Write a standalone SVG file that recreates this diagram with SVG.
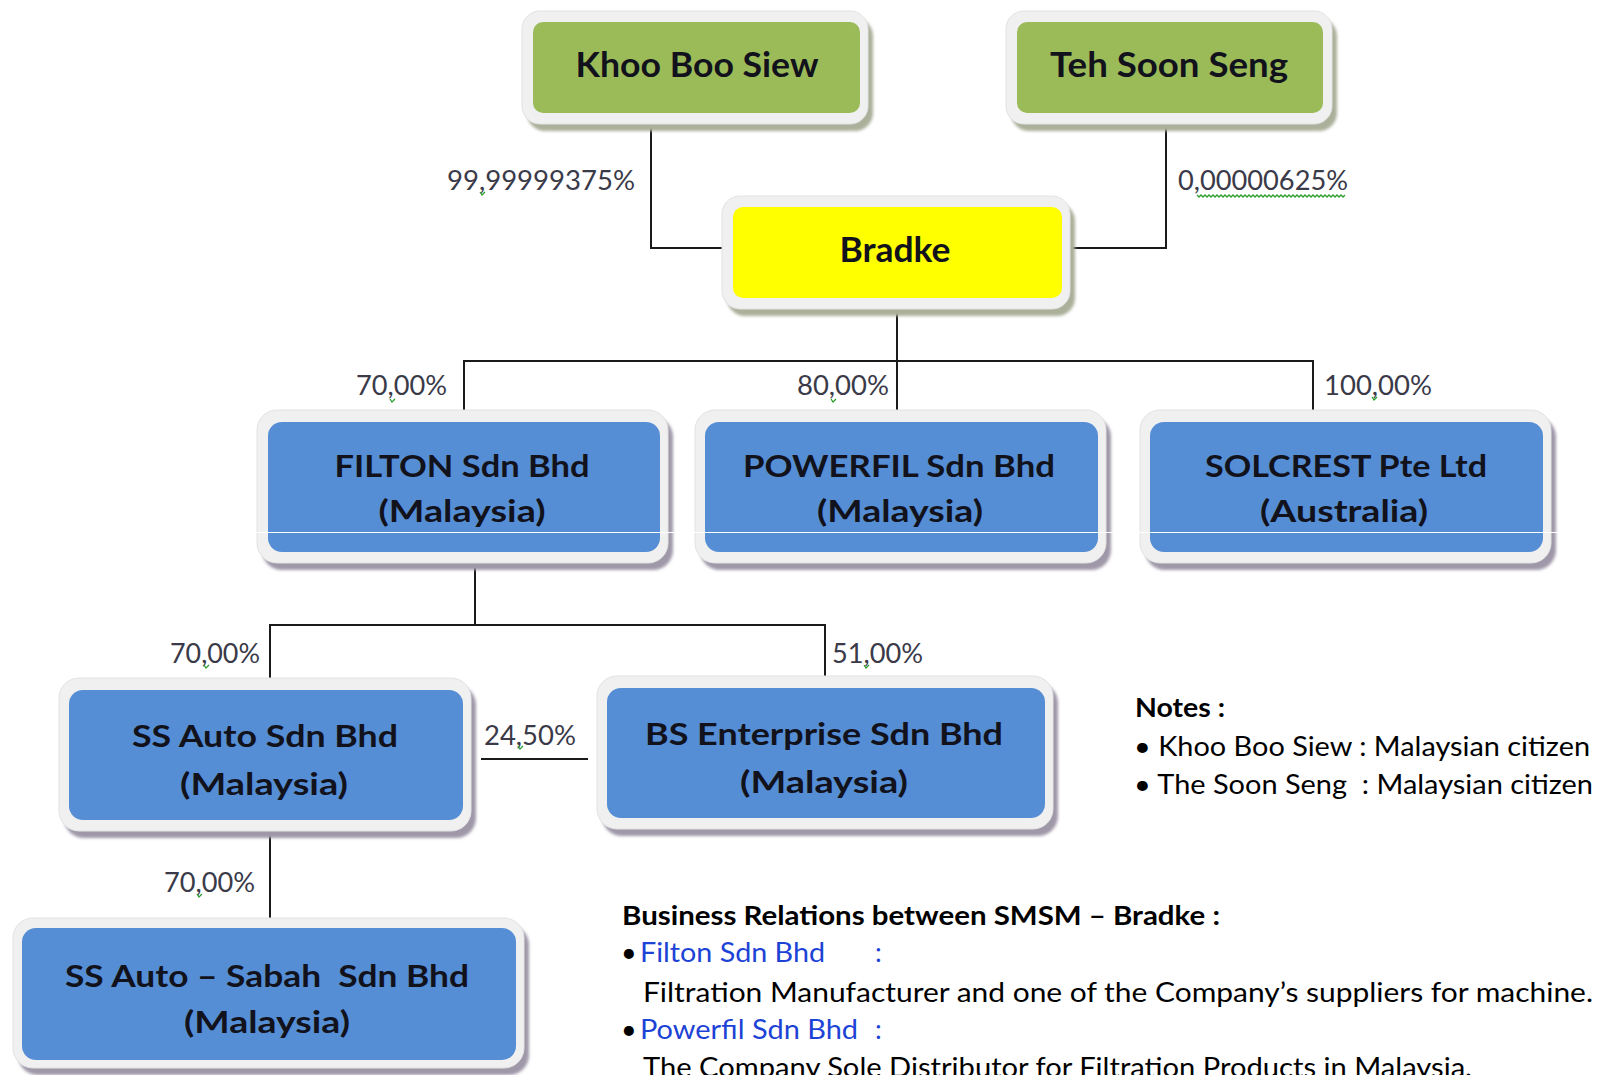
<svg xmlns="http://www.w3.org/2000/svg" width="1599" height="1075" viewBox="0 0 1599 1075">
<defs>
<filter id="blur" x="-5%" y="-5%" width="110%" height="120%"><feGaussianBlur stdDeviation="1.6"/></filter>
</defs>
<style>
.frame{fill:#f0f0f0;stroke:#e2e2e2;stroke-width:1}
.shg{fill:#aab09a;filter:url(#blur)}
.shb{fill:#9f98a9;filter:url(#blur)}
.green{fill:#9bbb59}
.yellow{fill:#ffff00}
.blue{fill:#558ed5}
.nt{font-family:Lato,"Liberation Sans",sans-serif;font-weight:bold;fill:#12121c;text-anchor:middle}
.big{font-size:35px}
.mid{font-size:30px}
.lbl{font-family:Lato,"Liberation Sans",sans-serif;font-size:27px;fill:#3a3a48}
.conn{stroke:#1a1a1a;stroke-width:2;fill:none}
.body{font-family:Lato,"Liberation Sans",sans-serif;font-size:27px;fill:#000}
.bold{font-weight:bold}
.link{fill:#1d43d6}
.sp{stroke:#2e9e2e;stroke-width:1.3;fill:none}
</style>

<g id="connectors">
<path class="conn" d="M651,128 V248 H722"/>
<path class="conn" d="M1166,128 V248 H1070"/>
<path class="conn" d="M897,312 V410"/>
<path class="conn" d="M464,410 V361 H1313 V410"/>
<path class="conn" d="M475,568 V625"/>
<path class="conn" d="M270,678 V625 H825 V676"/>
<path class="conn" d="M481,759 H588"/>
<path class="conn" d="M270,836 V918"/>
</g>

<g id="node-khoo">
<rect class="shg" x="527" y="18" width="346" height="113" rx="18"/>
<rect class="frame" x="522" y="11" width="346" height="113" rx="18"/>
<rect class="green" x="533" y="22" width="327" height="91" rx="10"/>
<text class="nt big" x="697" y="77" textLength="243" lengthAdjust="spacingAndGlyphs">Khoo Boo Siew</text>
</g>

<g id="node-teh">
<rect class="shg" x="1011" y="18" width="326" height="113" rx="18"/>
<rect class="frame" x="1006" y="11" width="326" height="113" rx="18"/>
<rect class="green" x="1017" y="22" width="306" height="91" rx="10"/>
<text class="nt big" x="1169" y="77" textLength="238" lengthAdjust="spacingAndGlyphs">Teh Soon Seng</text>
</g>

<g id="node-bradke">
<rect class="shg" x="727" y="203" width="348" height="113" rx="18"/>
<rect class="frame" x="722" y="196" width="348" height="113" rx="18"/>
<rect class="yellow" x="733" y="207" width="329" height="91" rx="10"/>
<text class="nt big" x="895" y="262" textLength="111" lengthAdjust="spacingAndGlyphs">Bradke</text>
</g>

<g id="node-filton">
<rect class="shb" x="262" y="417" width="411" height="153" rx="20"/>
<rect class="frame" x="257" y="410" width="411" height="153" rx="20"/>
<rect class="blue" x="268" y="422" width="392" height="130" rx="14"/>
<text class="nt mid" x="462" y="477" textLength="255" lengthAdjust="spacingAndGlyphs">FILTON Sdn Bhd</text>
<text class="nt mid" x="462" y="522" textLength="167" lengthAdjust="spacingAndGlyphs">(Malaysia)</text>
</g>

<g id="node-powerfil">
<rect class="shb" x="700" y="417" width="411" height="153" rx="20"/>
<rect class="frame" x="695" y="410" width="411" height="153" rx="20"/>
<rect class="blue" x="705" y="422" width="393" height="130" rx="14"/>
<text class="nt mid" x="899" y="477" textLength="312" lengthAdjust="spacingAndGlyphs">POWERFIL Sdn Bhd</text>
<text class="nt mid" x="900" y="522" textLength="166" lengthAdjust="spacingAndGlyphs">(Malaysia)</text>
</g>

<g id="node-solcrest">
<rect class="shb" x="1145" y="417" width="411" height="153" rx="20"/>
<rect class="frame" x="1140" y="410" width="411" height="153" rx="20"/>
<rect class="blue" x="1150" y="422" width="393" height="130" rx="14"/>
<text class="nt mid" x="1346" y="477" textLength="282" lengthAdjust="spacingAndGlyphs">SOLCREST Pte Ltd</text>
<text class="nt mid" x="1344" y="522" textLength="168" lengthAdjust="spacingAndGlyphs">(Australia)</text>
</g>

<line x1="255" y1="532.5" x2="1560" y2="532.5" stroke="#ffffff" stroke-width="1.2"/>

<g id="node-ssauto">
<rect class="shb" x="64" y="685" width="412" height="153" rx="20"/>
<rect class="frame" x="59" y="678" width="412" height="153" rx="20"/>
<rect class="blue" x="69" y="690" width="394" height="130" rx="14"/>
<text class="nt mid" x="265" y="747" textLength="266" lengthAdjust="spacingAndGlyphs">SS Auto Sdn Bhd</text>
<text class="nt mid" x="264" y="795" textLength="168" lengthAdjust="spacingAndGlyphs">(Malaysia)</text>
</g>

<g id="node-bs">
<rect class="shb" x="602" y="683" width="456" height="153" rx="20"/>
<rect class="frame" x="597" y="676" width="456" height="153" rx="20"/>
<rect class="blue" x="607" y="688" width="438" height="130" rx="14"/>
<text class="nt mid" x="824" y="745" textLength="358" lengthAdjust="spacingAndGlyphs">BS Enterprise Sdn Bhd</text>
<text class="nt mid" x="824" y="793" textLength="168" lengthAdjust="spacingAndGlyphs">(Malaysia)</text>
</g>

<g id="node-sabah">
<rect class="shb" x="18" y="925" width="511" height="150" rx="20"/>
<rect class="frame" x="13" y="918" width="511" height="150" rx="20"/>
<rect class="blue" x="22" y="928" width="494" height="132" rx="14"/>
<text class="nt mid" x="267" y="987" textLength="404" lengthAdjust="spacingAndGlyphs" style="white-space:pre">SS Auto – Sabah  Sdn Bhd</text>
<text class="nt mid" x="267" y="1033" textLength="166" lengthAdjust="spacingAndGlyphs">(Malaysia)</text>
</g>

<g id="labels">
<text class="lbl" x="447" y="190" textLength="188" lengthAdjust="spacingAndGlyphs">99,99999375%</text>
<text class="lbl" x="1178" y="190" textLength="170" lengthAdjust="spacingAndGlyphs">0,00000625%</text>
<text class="lbl" x="356" y="395" textLength="91" lengthAdjust="spacingAndGlyphs">70,00%</text>
<text class="lbl" x="797" y="395" textLength="92" lengthAdjust="spacingAndGlyphs">80,00%</text>
<text class="lbl" x="1324" y="395" textLength="108" lengthAdjust="spacingAndGlyphs">100,00%</text>
<text class="lbl" x="170" y="663" textLength="90" lengthAdjust="spacingAndGlyphs">70,00%</text>
<text class="lbl" x="832" y="663" textLength="91" lengthAdjust="spacingAndGlyphs">51,00%</text>
<text class="lbl" x="484" y="745" textLength="92" lengthAdjust="spacingAndGlyphs">24,50%</text>
<text class="lbl" x="164" y="892" textLength="91" lengthAdjust="spacingAndGlyphs">70,00%</text>
</g>

<g id="spellcheck">
<path class="sp" d="M480,192 l2,3 l3,-3"/>
<path class="sp" d="M390,399 l2,3 l3,-3"/>
<path class="sp" d="M831,399 l2,3 l3,-3"/>
<path class="sp" d="M1372,397 l2,3 l3,-3"/>
<path class="sp" d="M204,665 l2,3 l3,-3"/>
<path class="sp" d="M864,665 l2,3 l3,-3"/>
<path class="sp" d="M518,746 l2,3 l3,-3"/>
<path class="sp" d="M197,894 l2,3 l3,-3"/>
<path class="sp" d="M1197,195 l2,2 l2,-2 l2,2 l2,-2 l2,2 l2,-2 l2,2 l2,-2 l2,2 l2,-2 l2,2 l2,-2 l2,2 l2,-2 l2,2 l2,-2 l2,2 l2,-2 l2,2 l2,-2 l2,2 l2,-2 l2,2 l2,-2 l2,2 l2,-2 l2,2 l2,-2 l2,2 l2,-2 l2,2 l2,-2 l2,2 l2,-2 l2,2 l2,-2 l2,2 l2,-2 l2,2 l2,-2 l2,2 l2,-2 l2,2 l2,-2 l2,2 l2,-2 l2,2 l2,-2 l2,2 l2,-2 l2,2 l2,-2 l2,2 l2,-2 l2,2 l2,-2 l2,2 l2,-2 l2,2 l2,-2 l2,2 l2,-2 l2,2 l2,-2 l2,2 l2,-2 l2,2 l2,-2 l2,2 l2,-2 l2,2 l2,-2 l2,2 l2,-2"/>
</g>

<g id="notes">
<text class="body bold" x="1135" y="717" textLength="90" lengthAdjust="spacingAndGlyphs">Notes :</text>
<text class="body" x="1134" y="756" textLength="456" lengthAdjust="spacingAndGlyphs">• Khoo Boo Siew : Malaysian citizen</text>
<text class="body" x="1134" y="794" textLength="459" lengthAdjust="spacingAndGlyphs" style="white-space:pre">• The Soon Seng  : Malaysian citizen</text>
</g>

<g id="business">
<text class="body bold" x="622" y="925" textLength="598" lengthAdjust="spacingAndGlyphs">Business Relations between SMSM – Bradke :</text>
<text class="body" x="621" y="962">•</text>
<text class="body link" x="640" y="962" textLength="185" lengthAdjust="spacingAndGlyphs">Filton Sdn Bhd</text>
<text class="body link" x="875" y="962">:</text>
<text class="body" x="643" y="1002" textLength="950" lengthAdjust="spacingAndGlyphs">Filtration Manufacturer and one of the Company’s suppliers for machine.</text>
<text class="body" x="621" y="1039">•</text>
<text class="body link" x="640" y="1039" textLength="218" lengthAdjust="spacingAndGlyphs">Powerfil Sdn Bhd</text>
<text class="body link" x="875" y="1039">:</text>
<text class="body" x="643" y="1077" textLength="829" lengthAdjust="spacingAndGlyphs">The Company Sole Distributor for Filtration Products in Malaysia.</text>
</g>
</svg>
